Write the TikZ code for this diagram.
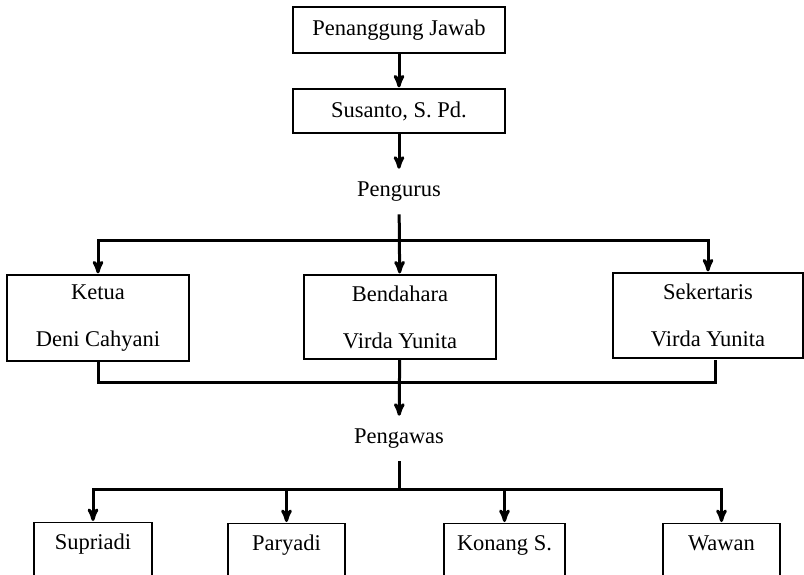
\documentclass[tikz,border=0pt]{standalone}
\usepackage{fontspec}
\setmainfont{Liberation Serif}
\usepackage{tikz}
\usetikzlibrary{arrows}
\usetikzlibrary{positioning}

\begin{document}
\begin{tikzpicture}[->,>=stealth',shorten >=1pt,x=1pt,y=-1pt,
  line width=3pt,font=\fontsize{22.5}{26}\selectfont,
  main node/.style={rectangle,draw,line width=1.2pt,align=center},
  sub node/.style={main node,anchor=north,text height=15pt,text depth=70pt,inner ysep=12pt},
  label node/.style={rectangle,inner ysep=11pt}]
  \useasboundingbox (0,0) rectangle (804,574);
  \clip (0,0) rectangle (804,574);

  \node[main node,minimum width=212pt,minimum height=46pt] (1) at (399,30) {Penanggung Jawab};
  \node[main node,minimum width=212pt,minimum height=44pt] (2) at (399,111) {Susanto, S. Pd.};
  \node[label node] (3) at (399,192) {Pengurus};

  \node[main node,minimum width=182pt,minimum height=86pt] (4) at (98,318) {Ketua\\[21pt]Deni Cahyani};
  \node[main node,minimum width=192pt,minimum height=84pt] (5) at (400,317) {Bendahara\\[21pt]Virda Yunita};
  \node[main node,minimum width=190pt,minimum height=85pt] (6) at (708,315.5) {Sekertaris\\[21pt]Virda Yunita};

  \node[label node] (7) at (399,439) {Pengawas};

  \node[sub node,minimum width=118pt] (8) at (93,522) {Supriadi};
  \node[sub node,minimum width=117pt] (9) at (286.5,523) {Paryadi};
  \node[sub node,minimum width=121pt] (10) at (504.5,523) {Konang S.};
  \node[sub node,minimum width=117pt] (11) at (721.5,523) {Wawan};

  \coordinate (a) at (399,240);
  \coordinate (b) at (399,382);
  \coordinate (c) at (399,489);

  \path
    (1) edge (2)
    (2) edge (3)
    (3) edge (5)
    (5) edge (7);

  \draw (a) -| (4);
  \draw (a) -| (6);
  \draw[-] (4) |- (b) -| ([xshift=7pt]6.south);

  \draw[-] (7) -- (c);
  \foreach \n in {8,9,10,11}
    \draw (c) -| (\n);
\end{tikzpicture}
\end{document}
